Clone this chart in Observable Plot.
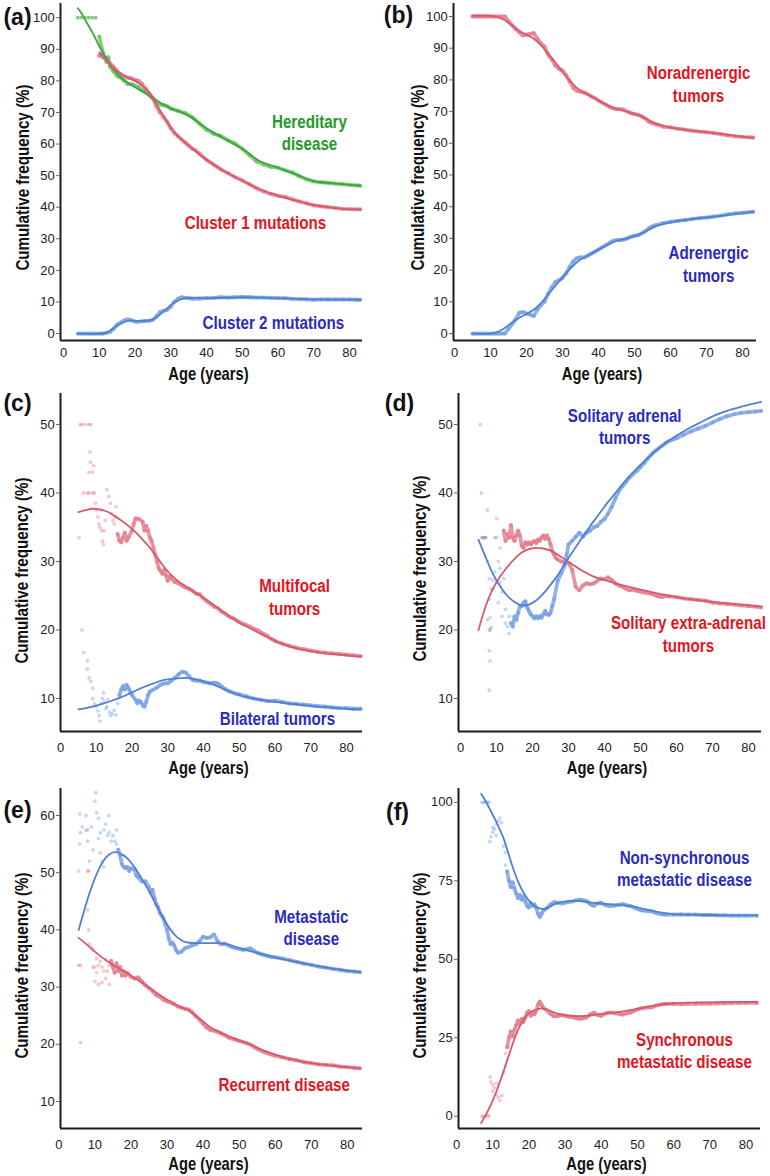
<!DOCTYPE html>
<html>
<head>
<meta charset="utf-8">
<script src="https://cdn.jsdelivr.net/npm/d3@7"></script>
<script src="https://cdn.jsdelivr.net/npm/@observablehq/plot@0.6"></script>
<style>
  body { margin: 0; background: #fff; }
  #root { position: relative; width: 770px; height: 1176px; overflow: hidden; background: #fff; }
  .panel { position: absolute; }
</style>
</head>
<body>
<div id="root"></div>
<script>
// ---------------- DATA (age in years, cumulative frequency in %) ----------------
const ageTicks = [0, 10, 20, 30, 40, 50, 60, 70, 80];
const yTicksA = [0, 10, 20, 30, 40, 50, 60, 70, 80, 90, 100];
const yTicksB = [0, 10, 20, 30, 40, 50, 60, 70, 80, 90, 100];
const yTicksC = [10, 20, 30, 40, 50];
const yTicksD = [10, 20, 30, 40, 50];
const yTicksE = [10, 20, 30, 40, 50, 60];
const yTicksF = [0, 25, 50, 75, 100];

const seriesNames = ["Hereditary\ndisease", "Cluster 1 mutations", "Cluster 2 mutations",
  "Noradrenergic\ntumors", "Adrenergic\ntumors", "Multifocal\ntumors", "Bilateral tumors",
  "Solitary adrenal\ntumors", "Solitary extra-adrenal\ntumors", "Metastatic\ndisease", "Recurrent disease",
  "Non-synchronous\nmetastatic disease", "Synchronous\nmetastatic disease"];

// (a)
const aHeredObs = [[4,100],[5,100],[6,100],[7,100],[8,100],[9,100],[10,94],[11,89],[12,86],[12.5,87.5],[13,84.5],[14,83],[15,81.5],[16,81],[17,80],[18,79],[19,79],[20,78.5],[21,78],[22,77],[23,76.5],[24,75.5],[25,74.5],[26,73.5],[27,72.5],[28,72.3],[29,72],[30,71.2],[32,70.5],[34,69.8],[36,68.5],[38,66.5],[40,64.5],[42,63.3],[44,62.5],[46,61.2],[48,60.2],[50,58.5],[52,56.5],[54,54.5],[56,53.5],[58,52.8],[60,52.5],[62,51.7],[64,51],[66,49.8],[68,48.8],[70,48.2],[72,47.9],[74,47.7],[76,47.5],[78,47.3],[80,47.1],[82,46.9],[83,46.8]];
const aHeredFit = [[4,103],[5,101.5],[6,99.5],[7,97.5],[8,95.5],[9,93.3],[10,91],[11,89],[12,87],[13,85.2],[14,83.6],[15,82.2],[17,80.2],[20,78],[23,76],[25,74.5],[28,72.5],[30,71.3],[35,69],[40,65],[45,61.7],[50,58.5],[55,54.5],[60,52.5],[65,50.4],[70,48.3],[75,47.6],[80,47.1],[83,46.8]];
const aClus1Obs = [[10,88],[11,87.5],[12,87],[13,85.5],[14,84.5],[15,83],[16,82],[17,81.5],[18,81],[19,80.8],[20,80.3],[21,80],[22,79],[23,77.5],[24,76],[25,74.5],[26,72],[27,70],[28,68.5],[29,67],[30,65],[31,63.5],[32,62.5],[33,61.5],[34,60.5],[35,59.5],[36,58.5],[37,58],[38,57],[40,55],[42,53.5],[44,52],[46,50.8],[48,49.5],[50,48.5],[52,47.3],[54,46],[56,45],[58,44.2],[60,43.6],[62,43.3],[64,42.5],[66,41.8],[68,41.2],[70,40.6],[72,40.3],[74,40],[76,39.8],[78,39.5],[80,39.4],[82,39.3],[83,39.3]];
const aClus1Fit = [[10,89],[12,86.5],[14,84],[16,82.3],[18,81],[20,80],[22,78.5],[24,76.3],[26,72.5],[28,68.8],[30,65.3],[32,62.5],[35,59.6],[40,55],[45,51.4],[50,48.4],[55,45.6],[60,43.7],[65,42.1],[70,40.7],[75,39.9],[80,39.4],[83,39.3]];
const aClus2Obs = [[4,0],[5,0],[6,0],[7,0],[8,0],[9,0],[10,0],[11,0],[12,0.2],[13,0.5],[14,1.5],[15,2.8],[16,3.5],[17,4.2],[18,4.5],[19,4.2],[20,3.8],[21,3.7],[22,3.9],[23,4],[24,4],[25,4.3],[26,5.5],[27,6.8],[28,7.2],[29,7.5],[30,8.5],[31,10],[32,11],[33,11.5],[34,11.3],[35,11.2],[36,11],[38,11.1],[40,11.2],[42,11.3],[44,11.5],[46,11.4],[48,11.5],[50,11.6],[52,11.5],[54,11.4],[56,11.4],[58,11.3],[60,11.2],[62,11.2],[64,11],[66,10.9],[68,10.8],[70,10.7],[72,10.8],[74,10.8],[76,10.8],[78,10.8],[80,10.8],[82,10.7],[83,10.7]];
const aClus2Fit = [[4,0],[12,0.3],[15,2.5],[18,4],[22,4],[25,4.5],[28,7],[31,9.8],[34,11.2],[40,11.2],[50,11.5],[60,11.2],[70,10.8],[83,10.7]];

// (b)
const bNorObs = [[5,100],[6,100],[7,100],[8,100],[9,100],[10,100],[11,100],[12,100],[13,100],[14,100],[15,98.5],[16,97.2],[17,96],[18,95],[19,94],[20,94.3],[21,94.5],[22,94.8],[23,93],[24,91.5],[25,90.5],[26,88],[27,86.5],[28,84.5],[29,83.5],[30,83],[31,81.5],[32,79.5],[33,77.5],[34,76.5],[35,76.3],[36,76],[37,75.5],[38,74.8],[39,74.3],[40,73.5],[41,72.8],[42,72.2],[43,71.5],[44,71],[45,70.8],[46,70.8],[47,70.6],[48,70],[49,69.5],[50,69.2],[51,69],[52,68.5],[53,67.8],[54,66.8],[55,66.3],[56,66],[58,65.2],[60,65],[62,64.6],[64,64.3],[66,64],[68,63.7],[70,63.5],[72,63.2],[74,62.9],[76,62.5],[78,62.2],[80,62],[82,61.9],[83,61.8]];
const bNorFit = [[5,100.3],[10,100.2],[12,99.8],[14,98.8],[16,97.2],[18,95.5],[20,94.2],[22,93],[24,91],[26,88.3],[28,85.5],[30,82.5],[32,79.8],[34,77.5],[36,76],[38,74.8],[40,73.5],[44,71.3],[48,70],[52,68.5],[56,66.2],[60,65],[65,64.1],[70,63.5],[75,62.8],[80,62.1],[83,61.8]];
const bAdrObs = [[5,0],[6,0],[7,0],[8,0],[9,0],[10,0],[11,0],[12,0],[13,0],[14,0],[15,1.5],[16,3],[17,4.5],[18,6.5],[19,6.8],[20,6.3],[21,6],[22,5.5],[23,7.5],[24,9],[25,10],[26,12.5],[27,14.5],[28,16.2],[29,16.8],[30,17.5],[31,19],[32,21],[33,22.8],[34,23.8],[35,24],[36,24],[37,24.5],[38,25.2],[39,25.8],[40,26.5],[41,27.2],[42,27.8],[43,28.5],[44,29.2],[45,29.5],[46,29.5],[47,29.6],[48,30],[49,30.5],[50,30.8],[51,31],[52,31.6],[53,32.3],[54,33.2],[55,33.8],[56,34.2],[58,34.8],[60,35.2],[62,35.5],[64,35.8],[66,36.1],[68,36.4],[70,36.6],[72,36.9],[74,37.2],[76,37.6],[78,37.9],[80,38.1],[82,38.3],[83,38.4]];
const bAdrFit = [[5,0],[10,0],[12,0.5],[14,1.8],[16,3.5],[18,5],[20,6.2],[22,7.5],[24,9.5],[26,12.3],[28,15],[30,17.8],[32,20.3],[34,22.5],[36,24],[38,25.2],[40,26.5],[44,28.8],[48,30.1],[52,31.6],[56,33.9],[60,35.1],[65,36],[70,36.6],[75,37.3],[80,38],[83,38.4]];

// (c)
const cMultiObs = [[5.2,33.5],[5.5,50],[6,50],[7,50],[8,50],[8.5,50],[6.5,40],[7.5,40],[8,40],[9,40],[9.5,40],[8.2,46],[8.4,44.5],[8,43],[9,43],[9.3,44],[9.8,38.5],[10,37.5],[10.5,36.5],[10.8,35.5],[11,35],[11.3,37.5],[11.5,34.5],[11.8,33],[12,32.5],[12.3,34.5],[12.5,36],[13,40.5],[13.5,39.5],[14,38.5],[14.3,37],[14.7,36],[15,35.5],[15.5,38],[15.3,36.5],
  [16,34],[16.5,33],[17,32.8],[17.5,33.5],[18,34.2],[18.5,33],[19,33.5],[20,34.5],[20.5,35.5],[21,36.3],[22,36.2],[23,35.8],[23.5,34.5],[24,35.2],[24.5,34.5],[25,33.5],[25.5,33],[26,32],[26.5,31],[27,30],[27.5,29],[28,28.6],[28.5,28.2],[29,28.8],[29.5,28],[30,27.2],[30.5,27.8],[31,27.5],[32,27],[33,26.8],[34,26.5],[35,26.2],[36,26],[37,25.7],[38,25.3],[39,25.2],[40,24.6],[41,24.2],[42,23.8],[43,23.4],[44,23.2],[45,22.7],[46,22.4],[47,22],[48,21.8],[49,21.5],[50,21.2],[51,20.9],[52,20.7],[53,20.5],[54,20.2],[55,20],[56,19.7],[57,19.4],[58,19.1],[59,18.7],[60,18.4],[62,18],[64,17.7],[66,17.4],[68,17.2],[70,17],[72,16.8],[74,16.7],[76,16.6],[78,16.5],[80,16.4],[82,16.3],[84,16.2]];
const cMultiFit = [[5,37.2],[7,37.5],[9,37.7],[11,37.6],[13,37.3],[15,36.7],[17,36],[19,35.2],[21,34.3],[23,33.2],[25,32],[27,30.6],[29,29.2],[31,28],[33,27.1],[35,26.4],[37,25.7],[40,24.7],[43,23.6],[46,22.5],[49,21.4],[52,20.5],[55,19.7],[58,18.9],[61,18.2],[64,17.6],[67,17.2],[70,16.9],[74,16.6],[78,16.4],[84,16.1]];
const cBilatObs = [[6,20],[6.5,16.7],[7.5,15.5],[7.5,14.3],[8,13],[8.5,12.5],[9,11.5],[9,10],[9.5,9.2],[10,8.8],[10.5,8.2],[10.8,7.5],[11,6.7],[11.3,9.3],[11.7,10],[12,10.8],[12.3,9.5],[12.7,8.5],[13,8.8],[13.3,9.8],[13.7,8],[14,7.5],[14.5,7.8],[15,8.3],[15.5,7.6],[16,9.3],
  [16.5,10.5],[17,11.3],[17.5,11.8],[18,11.3],[18.5,12],[19,11.5],[19.5,11],[20,10.5],[21,9.8],[21.5,9.3],[22,9.7],[22.5,9.5],[23,9],[23.5,8.8],[24,9.5],[24.5,10.5],[25,11],[26,11.3],[27,11.6],[28,12],[29,12.2],[30,12.2],[31,12.6],[32,13],[33,13.5],[34,13.9],[35,13.8],[36,13.2],[37,12.7],[38,12.6],[39,12.6],[40,12.4],[41,12.3],[42,12.2],[43,12.3],[44,12.2],[45,11.8],[46,11.4],[47,11.1],[48,10.9],[49,10.7],[50,10.6],[52,10.3],[54,10],[56,9.8],[58,9.6],[60,9.7],[62,9.5],[64,9.3],[66,9.2],[68,9.1],[70,9],[72,8.9],[74,8.8],[76,8.7],[78,8.6],[80,8.6],[82,8.5],[84,8.5]];
const cBilatFit = [[5,8.4],[8,8.7],[11,9.1],[14,9.6],[17,10.2],[20,10.9],[23,11.6],[26,12.2],[29,12.7],[32,12.9],[35,13],[38,12.8],[42,12.2],[46,11.3],[50,10.5],[55,9.9],[60,9.5],[65,9.2],[70,8.9],[75,8.7],[80,8.5],[84,8.4]];

// (d)
const dAdrenObs = [[5.5,50],[5.8,40],[6,33.5],[6.5,33.5],[7,33.5],[7.5,37.5],[7.5,30],[8,27.5],[8,24.5],[8.2,21.8],[8.5,20.4],[8.3,20],[9,26],[9.5,28.5],[10,27],[10,33.5],[10.5,24],[11,29],[11.5,22],[11.5,25.5],[12,27.5],[12.5,23],[12.5,21],[13,20.5],[13.5,22],[13.5,19.5],
  [14,21],[14.5,20.5],[15,22],[15.5,21.5],[16,22.5],[16.5,23.5],[17,23.5],[17.5,24],[18,24.2],[18.5,23.3],[19,22.8],[19.5,22.3],[20,22],[20.5,21.7],[21,22],[21.5,21.7],[22,22],[22.5,21.8],[23,22.3],[23.5,22.8],[24,22.3],[24.5,22.2],[25,22.5],[25.5,23.5],[26,24.5],[27,27.2],[28,28.3],[29,29.5],[29.5,31],[30,32.5],[31,33],[32,33.6],[33,34.2],[34,33.6],[35,34.2],[36,34.5],[37,35],[38,35.2],[39,35.8],[40,36.2],[41,37],[42,38],[43,39.2],[44,40.3],[45,41],[46,41.6],[47,42.3],[48,42.8],[49,43.2],[50,43.8],[51,44.4],[52,45],[53,45.6],[54,46.1],[55,46.5],[56,46.9],[57,47.3],[58,47.6],[59,47.8],[60,48],[62,48.5],[64,49],[66,49.4],[68,49.8],[70,50.3],[72,50.8],[74,51.2],[76,51.5],[78,51.7],[80,51.8],[82,51.9],[83.5,52]];
const dAdrenFit = [[5,33.2],[7,30.6],[9,28.2],[11,26.4],[13,25],[15,24.1],[17,23.6],[19,23.7],[21,24.3],[23,25.3],[25,26.6],[27,28],[29,29.7],[31,31.3],[33,32.9],[35,34.4],[37,35.9],[39,37.3],[41,38.7],[43,40],[45,41.3],[47,42.5],[49,43.6],[51,44.6],[53,45.6],[55,46.5],[58,47.7],[61,48.7],[64,49.6],[67,50.4],[70,51.2],[74,52],[78,52.6],[83.5,53.3]];
const dExtraObs = [[6,33.5],[6.5,33.5],[7,33.5],[7.5,21.5],[8,20],[8,17],[8.2,15.5],[8,11.2],[8.5,26],[9,27.3],[9.5,33.5],[10,36.3],[10.5,30],[11,32],[11,27],
  [12,34.5],[12.5,33],[13,34],[13.5,33.5],[14,35.3],[14.5,33.5],[15,33],[15.5,33.8],[16,34.5],[16.5,33.8],[17,32.3],[17.5,32],[18,32.8],[18.5,32.5],[19,32.8],[19.5,32.5],[20,32.8],[20.5,33],[21,32.7],[21.5,33.2],[22,33],[22.5,33.5],[23,33.8],[23.5,33.3],[24,33.8],[24.5,33.3],[25,32.5],[25.5,31.5],[26,31],[26.5,30.5],[27,30.3],[28,30],[29,29.8],[30,29.8],[31,28.8],[32,26.3],[33,25.8],[34,26.5],[35,26.8],[36,26.7],[37,26.8],[38,27.2],[39,27.5],[40,27.4],[41,27.7],[42,27.3],[43,26.8],[44,26.5],[45,26.3],[46,26],[47,25.8],[48,25.9],[49,25.7],[50,25.6],[51,25.5],[52,25.4],[53,25.3],[54,25.1],[55,24.9],[56,24.8],[57,25],[58,24.9],[60,24.8],[62,24.6],[64,24.5],[66,24.4],[68,24.3],[70,24],[72,23.9],[74,23.8],[76,23.7],[78,23.6],[80,23.5],[82,23.4],[83.5,23.3]];
const dExtraFit = [[5,20],[7,23.5],[9,26],[11,27.8],[13,29.2],[15,30.4],[17,31.3],[19,31.8],[21,32],[23,31.9],[25,31.6],[27,31],[29,30.3],[31,29.6],[33,28.9],[35,28.3],[37,27.8],[40,27.3],[43,26.8],[46,26.4],[50,25.9],[55,25.3],[60,24.8],[65,24.4],[70,24.1],[75,23.8],[80,23.6],[83.5,23.4]];

// (e)
const eMetaObs = [[5.5,33.8],[6,20.3],[5.8,55],[6,57],[6.5,58],[7.5,60],[8,57.5],[8,55.5],[8.5,52],[9,58],[9.5,54],[10,62.5],[10.3,64],[10.5,60.5],[11,59.5],[11,56],[11.5,53.5],[11.5,57],[12,52],[12.5,51],[12.5,57.5],[13,58.5],[13.5,56.5],[13.8,60],[14,57],[14.5,55.5],[15,56.5],[15.5,55.5],[16,57.5],[16,55],
  [16.5,54],[17,53],[17.5,51.5],[18,51],[18.5,50.8],[19,51],[19.5,50.3],[20,50.8],[21,50.5],[21.5,49.5],[22,49.2],[23,48.5],[24,48.5],[25,47.5],[25.5,46.5],[26,47],[26.5,45.5],[27,44.5],[27.5,44],[28,43],[28.5,42.5],[29,42],[29.5,41],[30,40],[30.5,38.5],[31,37.5],[31.5,37.8],[32,37.3],[32.5,36.5],[33,36],[34,36.2],[35,36.8],[36,37],[37,37.3],[38,37.5],[39,38],[40,38.8],[41,38.6],[42,38.7],[43,39.2],[44,38],[45,37.5],[46,37.6],[47,37.3],[48,37],[49,36.8],[50,36.7],[51,36.5],[52,36.6],[53,36.8],[54,36.4],[55,36],[56,35.8],[57,35.6],[58,35.4],[59,35.3],[60,35.2],[62,35],[64,34.7],[66,34.4],[68,34.1],[70,33.9],[72,33.6],[74,33.4],[76,33.2],[78,33],[80,32.8],[82,32.7],[83.5,32.6]];
const eMetaFit = [[5.5,40],[7,43.3],[8.5,46.4],[10,49],[11.5,51.1],[13,52.6],[14.5,53.4],[16,53.6],[17.5,53.2],[19,52.5],[20.5,51.4],[22,50],[23.5,48.4],[25,46.8],[26.5,45],[28,43.2],[29.5,41.5],[31,40],[32.5,38.9],[34,38.2],[35.5,37.8],[38,37.7],[42,37.7],[46,37.6],[50,36.8],[55,36],[60,35.2],[65,34.5],[70,33.9],[75,33.3],[80,32.9],[83.5,32.6]];
const eRecObs = [[5.5,50.3],[5.8,60.3],[6,33.8],[7.5,57.4],[8,50.3],[8.3,50.3],[8,43.5],[8.3,40],[8.5,37.5],[9,37],[9.5,36.5],[9.5,33.5],[10,33.5],[10,31],[10.5,35],[10.5,32.5],[11,33.8],[11,30.5],[11.5,34.5],[12,33.5],[12,30.8],[12.5,32.8],[13,34.8],[13,31.5],[13.5,32.8],[14,33.8],[14,30.5],
  [14.5,34.6],[15,33.5],[15.5,32.5],[16,34.2],[16.5,32.8],[17,33.5],[17.5,32],[18,32.8],[18.5,32],[19,32.5],[20,31.8],[21,31.5],[22,31.7],[23,31],[24,30.3],[25,29.8],[26,29.3],[27,28.6],[28,28.3],[29,27.8],[30,27.5],[31,27.3],[32,27],[33,26.6],[34,26.4],[35,26.2],[36,26.1],[37,25.6],[38,24.9],[39,24.3],[40,23.6],[41,22.9],[42,22.5],[43,22.4],[44,22.2],[45,21.9],[46,21.6],[47,21.2],[48,21],[49,20.8],[50,20.6],[51,20.4],[52,20.2],[53,20],[54,19.6],[55,19.2],[56,18.9],[57,18.6],[58,18.4],[59,18.2],[60,18],[62,17.7],[64,17.4],[66,17.2],[68,16.9],[70,16.7],[72,16.5],[74,16.4],[76,16.3],[78,16.1],[80,16],[82,15.9],[83.5,15.8]];
const eRecFit = [[5.5,38.6],[8,37.3],[10,36.2],[12,35.2],[14,34.3],[16,33.5],[18,32.8],[20,32],[22,31.2],[24,30.4],[26,29.5],[28,28.6],[30,27.8],[32,27.1],[34,26.5],[36,25.9],[38,25],[40,24],[42,23],[44,22.3],[46,21.7],[48,21.2],[50,20.7],[53,20],[56,19.1],[59,18.4],[62,17.8],[66,17.2],[70,16.7],[75,16.3],[80,16],[83.5,15.8]];

// (f)
const fNonObs = [[7,100],[7.5,100],[8,100],[8.5,100],[9,100],[9.2,87.5],[9.5,89],[10,90.5],[10,92],[10.5,91.5],[11,93],[11,89.5],[11.5,94],[12,95],[12.5,93.5],[13,86],[13.5,84],[13.5,80],
  [14,78],[14.5,75],[15,73],[15.5,74.5],[16,72.5],[16.5,71],[17,69.5],[17.5,70.5],[18,69],[18.5,70],[19,68.5],[19.5,67],[20,66.5],[20.5,68],[21,67],[21.5,67.5],[22,66.5],[22.5,64.5],[23,63.5],[23.5,64.5],[24,65.5],[25,66.3],[26,67.5],[27,68.2],[28,68],[29,67.8],[30,68],[31,68.3],[32,68.4],[33,68.8],[34,69],[35,68.8],[36,68.5],[37,67.5],[38,67],[39,67.8],[40,68],[41,67.3],[42,67],[43,67],[44,67.2],[45,67.4],[46,67.6],[47,67.2],[48,67],[49,66.5],[50,66],[51,65.6],[52,65.5],[53,65.3],[54,65.3],[55,64.8],[56,64.5],[57,64.3],[58,64.2],[60,64.2],[62,64.3],[64,64.2],[66,64.2],[68,64.1],[70,64.1],[72,64],[74,64],[76,63.9],[78,63.9],[80,63.9],[83,63.9]];
const fNonFit = [[6.8,102.7],[8,100.5],[9,98.3],[10,96],[11,93.8],[12,91.2],[13,88.5],[14,85],[15,81.2],[16,77.8],[17,74.8],[18,72.3],[19,70.3],[20,68.7],[21,67.5],[22,66.7],[23,66.2],[24,66],[25,66.3],[26,66.9],[27,67.5],[29,68.2],[31,68.6],[34,68.5],[37,68.1],[40,67.7],[44,67.4],[48,66.9],[52,66],[56,65],[60,64.4],[65,64.2],[70,64.1],[76,64],[83,64]];
const fSynObs = [[7,0],[7.5,0],[8,0],[8.5,0.3],[9,0],[9.3,12.5],[9.5,11],[10,10],[10,8],[10.5,9],[11,7],[11,10.5],[11.5,6],[12,5],[12.5,6.5],[13,14],[13.5,16],[13.5,20],
  [14,22],[14.5,25],[15,27],[15.5,25.5],[16,27.5],[16.5,29],[17,30.5],[17.5,29.5],[18,31],[18.5,30],[19,31.5],[19.5,33],[20,33.5],[20.5,32],[21,33],[21.5,32.5],[22,33.5],[22.5,35.5],[23,36.5],[23.5,35.5],[24,34.5],[25,33.7],[26,32.5],[27,31.8],[28,32],[29,32.2],[30,32],[31,31.7],[32,31.6],[33,31.2],[34,31],[35,31.2],[36,31.5],[37,32.5],[38,33],[39,32.2],[40,32],[41,32.7],[42,33],[43,33],[44,32.8],[45,32.6],[46,32.4],[47,32.8],[48,33],[49,33.5],[50,34],[51,34.4],[52,34.5],[53,34.7],[54,34.7],[55,35.2],[56,35.5],[57,35.7],[58,35.8],[60,35.8],[62,35.7],[64,35.8],[66,35.8],[68,35.9],[70,35.9],[72,36],[74,36],[76,36.1],[78,36.1],[80,36.1],[83,36.1]];
const fSynFit = [[6.8,-2.2],[8,0.2],[9,2.5],[10,5],[11,7.8],[12,11],[13,14.3],[14,17.8],[15,21.3],[16,24.6],[17,27.5],[18,29.8],[19,31.5],[20,32.7],[21,33.5],[22,34],[23,34.3],[24,34.3],[25,34],[26,33.5],[27,33],[29,32.4],[31,32.1],[34,31.9],[37,32.1],[40,32.6],[44,33.1],[48,33.8],[52,34.7],[56,35.5],[60,36],[65,36.2],[70,36.3],[76,36.4],[83,36.4]];

// ---------------- STYLE / LAYOUT ----------------
function fontAvailable(name) {
  const ctx = document.createElement("canvas").getContext("2d");
  const s = "Cumulative frequency (%) Age 0123456789";
  let diff = false;
  for (const base of ["monospace", "serif"]) {
    ctx.font = "bold 40px " + base; const w0 = ctx.measureText(s).width;
    ctx.font = `bold 40px "${name}", ${base}`; const w1 = ctx.measureText(s).width;
    if (Math.abs(w0 - w1) > 0.5) diff = true;
  }
  return diff;
}
const hasNarrow = fontAvailable("Liberation Sans Narrow");
const boldFamily = hasNarrow ? '"Liberation Sans Narrow", "Arial Narrow", sans-serif' : '"Liberation Sans", Arial, sans-serif';
const boldSize = 18.5;
const narrowScale = hasNarrow ? 1 : 0.82; // condensed look of the original labels

const RED = {band: "#e06f80", fit: "#d45a6c", label: "#e3141f"};
const BLUE = {band: "#6a96df", fit: "#4f80d2", label: "#2b2bbf"};
const GREEN = {band: "#58bd52", fit: "#3ea53a", label: "#22992a"};

const panels = [
  {id: "(a)", left: 0, top: 0, h: 385, mt: 3, mb: 45, ml: 60, mr: 23, xd: [-0.84, 83.64], yd: [-2.2, 104.5], yTicks: yTicksA, xPad: 7.4,
   letter: [-43, 14], ytitle: [-37, 5.5], xtitle: [-3, 34],
   series: [
     {obs: aHeredObs, fit: aHeredFit, c: GREEN, denseFrom: 10, sparseOp: 0.75},
     {obs: aClus1Obs, fit: aClus1Fit, c: RED, denseFrom: 10},
     {obs: aClus2Obs, fit: aClus2Fit, c: BLUE, denseFrom: 4}],
   labels: [{t: seriesNames[0], x: 68.8, y: 63.8, c: GREEN}, {t: seriesNames[1], x: 53.7, y: 35.2, c: RED}, {t: seriesNames[2], x: 58.7, y: 3.8, c: BLUE}]},
  {id: "(b)", left: 385, top: 0, h: 385, mt: 3, mb: 45, ml: 68, mr: 14, xd: [-0.28, 83.9], yd: [-2.2, 104.1], yTicks: yTicksB, xPad: 7.4,
   letter: [-55, 12], ytitle: [-35, 5.5], xtitle: [-3, 34],
   series: [
     {obs: bNorObs, fit: bNorFit, c: RED, denseFrom: 5},
     {obs: bAdrObs, fit: bAdrFit, c: BLUE, denseFrom: 5}],
   labels: [{t: seriesNames[3], x: 67.8, y: 78.9, c: RED}, {t: seriesNames[4], x: 70.6, y: 22.1, c: BLUE}]},
  {id: "(c)", left: 0, top: 385, h: 395, mt: 8, mb: 49, ml: 60, mr: 23, xd: [0, 84.5], yd: [5.18, 54.53], yTicks: yTicksC, xPad: 11.4,
   letter: [-43, 10], ytitle: [-38, 8], xtitle: [-3, 37],
   series: [
     {obs: cMultiObs, fit: cMultiFit, c: RED, denseFrom: 16},
     {obs: cBilatObs, fit: cBilatFit, c: BLUE, denseFrom: 16.5}],
   labels: [{t: seriesNames[5], x: 65.5, y: 24.9, c: RED}, {t: seriesNames[6], x: 60.7, y: 7.2, c: BLUE}]},
  {id: "(d)", left: 385, top: 385, h: 395, mt: 8, mb: 49, ml: 73, mr: 9, xd: [-0.56, 83.6], yd: [5.18, 54.53], yTicks: yTicksD, xPad: 11.4,
   letter: [-59, 10], ytitle: [-38, 6], xtitle: [-3, 37],
   series: [
     {obs: dExtraObs, fit: dExtraFit, c: RED, denseFrom: 12},
     {obs: dAdrenObs, fit: dAdrenFit, c: BLUE, denseFrom: 14}],
   labels: [{t: seriesNames[7], x: 45.6, y: 49.8, c: BLUE}, {t: seriesNames[8], x: 63.3, y: 19.5, c: RED}]},
  {id: "(e)", left: 0, top: 780, h: 396, mt: 8, mb: 48, ml: 60, mr: 23, xd: [0.47, 84.2], yd: [5.28, 64.72], yTicks: yTicksE, xPad: 11.4,
   letter: [-43, 22], ytitle: [-38, 7], xtitle: [-3, 36],
   series: [
     {obs: eRecObs, fit: eRecFit, c: RED, denseFrom: 14.5},
     {obs: eMetaObs, fit: eMetaFit, c: BLUE, denseFrom: 16.5}],
   labels: [{t: seriesNames[9], x: 70, y: 40.5, c: BLUE}, {t: seriesNames[10], x: 62.5, y: 13.1, c: RED}]},
  {id: "(f)", left: 385, top: 780, h: 396, mt: 8, mb: 48, ml: 73, mr: 10, xd: [0.55, 84.0], yd: [-3.9, 104.4], yTicks: yTicksF, xPad: 11.4,
   letter: [-61, 24], ytitle: [-38, 7], xtitle: [-3, 36],
   series: [
     {obs: fSynObs, fit: fSynFit, c: RED, denseFrom: 14},
     {obs: fNonObs, fit: fNonFit, c: BLUE, denseFrom: 14}],
   labels: [{t: seriesNames[11], x: 63, y: 79.2, c: BLUE}, {t: seriesNames[12], x: 63, y: 21.1, c: RED}]}
];

const X = d => d[0], Y = d => d[1];
const root = document.getElementById("root");

for (const p of panels) {
  const marks = [];
  for (const s of p.series) {
    const sparse = s.obs.filter(d => d[0] < s.denseFrom);
    const dense = s.obs.filter(d => d[0] >= s.denseFrom);
    marks.push(Plot.dot(sparse, {x: X, y: Y, r: 1.9, fill: s.c.band, fillOpacity: s.sparseOp || 0.38}));
    marks.push(Plot.line(dense, {x: X, y: Y, stroke: s.c.band, strokeWidth: 3.8, strokeOpacity: 0.72}));
    marks.push(Plot.dot(dense, {x: X, y: Y, r: 2.1, fill: s.c.band, fillOpacity: 0.45}));
  }
  for (const s of p.series) {
    marks.push(Plot.line(s.fit, {x: X, y: Y, stroke: s.c.fit, strokeWidth: 1.8, curve: "catmull-rom"}));
  }
  marks.push(
    Plot.ruleX([p.xd[0]], {stroke: "#1c1c1c", strokeWidth: 2}),
    Plot.ruleY([p.yd[0]], {stroke: "#1c1c1c", strokeWidth: 2}),
    Plot.axisY({ticks: p.yTicks, tickSize: 4, tickPadding: 1.7, fontSize: 13, stroke: "#666", fill: "#222", label: null}),
    Plot.axisX({ticks: ageTicks, tickSize: 0, tickPadding: p.xPad, fontSize: 13, fill: "#222", label: null})
  );
  for (const l of p.labels) {
    marks.push(Plot.text([l], {x: d => d.x, y: d => d.y, text: d => d.t, fill: l.c.label,
      fontFamily: boldFamily, fontWeight: "bold", fontSize: boldSize, lineHeight: 1.2, textAnchor: "middle", lineAnchor: "middle"}));
  }
  marks.push(
    Plot.text(["Age (years)"], {text: d => d, frameAnchor: "bottom", dx: p.xtitle[0], dy: p.xtitle[1],
      fontFamily: boldFamily, fontWeight: "bold", fontSize: 18, fill: "#111", lineAnchor: "middle"}),
    Plot.text(["Cumulative frequency (%)"], {text: d => d, frameAnchor: "left", rotate: -90, dx: p.ytitle[0], dy: p.ytitle[1],
      fontFamily: boldFamily, fontWeight: "bold", fontSize: boldSize, fill: "#111", textAnchor: "middle", lineAnchor: "middle"}),
    Plot.text([p.id], {text: d => d, frameAnchor: "top-left", dx: p.letter[0], dy: p.letter[1],
      fontFamily: '"Liberation Sans", Arial, sans-serif', fontWeight: 700, fontSize: 23, fill: "#111", textAnchor: "middle", lineAnchor: "middle"})
  );
  const svg = Plot.plot({
    width: 385, height: p.h,
    marginTop: p.mt, marginBottom: p.mb, marginLeft: p.ml, marginRight: p.mr,
    x: {domain: p.xd, label: null},
    y: {domain: p.yd, label: null},
    style: {fontFamily: '"Liberation Sans", Arial, sans-serif', fontSize: "13px", background: "transparent", overflow: "visible", color: "#222"},
    marks
  });
  if (narrowScale !== 1) {
    d3.select(svg).selectAll('g[font-weight="bold"] text').each(function () {
      const t = this.getAttribute("transform") || "";
      this.setAttribute("transform", t + ` scale(${narrowScale},1)`);
    });
  }
  const div = document.createElement("div");
  div.className = "panel";
  div.style.left = p.left + "px";
  div.style.top = p.top + "px";
  div.appendChild(svg);
  root.appendChild(div);
}
</script>
</body>
</html>
